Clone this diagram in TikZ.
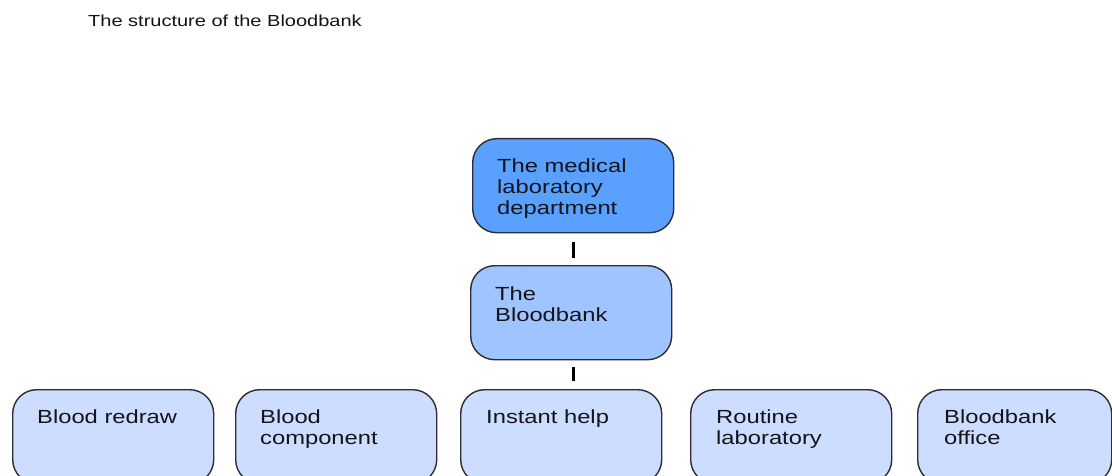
\documentclass[tikz,border=0pt]{standalone}
\usepackage{fontspec}
\setmainfont{Liberation Sans}[FakeStretch=1.25]
\usetikzlibrary{calc}
\definecolor{topblue}{RGB}{90,160,255}
\definecolor{midblue}{RGB}{160,196,255}
\definecolor{lowblue}{RGB}{204,221,255}
\definecolor{boxline}{RGB}{45,45,50}
\definecolor{textcol}{RGB}{20,20,25}
\begin{document}
\begin{tikzpicture}[x=1pt,y=-1pt,
  box/.style={draw=boxline, line width=1.4pt, rounded corners=24pt,
    minimum width=201pt, minimum height=94pt, inner sep=0pt, anchor=north west},
  lbl/.style={anchor=north west, inner sep=0pt, align=left,
    font=\fontsize{19}{21}\selectfont, text=textcol},
  stub/.style={line width=3.2pt, black}]
\useasboundingbox (0,0) rectangle (1112,476);
\clip (0,0) rectangle (1112,476);
\fill[white] (0,0) rectangle (1112,476);

\node[anchor=base west, inner sep=0pt, font=\fontsize{16}{19}\selectfont, text=textcol]
  (title) at (88,27) {The structure of the Bloodbank};

% boxes
\node[box, fill=topblue] (med) at (472,138) {};
\node[box, fill=midblue] (bb) at (470,265) {};
\node[box, fill=lowblue] (b1) at (12,389) {};
\node[box, fill=lowblue] (b2) at (235,389) {};
\node[box, fill=lowblue] (b3) at (460,389) {};
\node[box, fill=lowblue] (b4) at (690,389) {};
\node[box, fill=lowblue, minimum width=194pt] (b5) at (917,389) {};

% labels
\node[lbl] (tmed) at ($(med.north west)+(25,18)$) {\rule{0pt}{16pt}The medical\\laboratory\\department};
\node[lbl] (tbb) at ($(bb.north west)+(25,19)$) {\rule{0pt}{16pt}The\\Bloodbank};
\node[lbl] (t1) at ($(b1.north west)+(25,18)$) {\rule{0pt}{16pt}Blood redraw};
\node[lbl] (t2) at ($(b2.north west)+(25,18)$) {\rule{0pt}{16pt}Blood\\component};
\node[lbl] (t3) at ($(b3.north west)+(26,18)$) {\rule{0pt}{16pt}Instant help};
\node[lbl] (t4) at ($(b4.north west)+(26,18)$) {\rule{0pt}{16pt}Routine\\laboratory};
\node[lbl] (t5) at ($(b5.north west)+(27,18)$) {\rule{0pt}{16pt}Bloodbank\\office};

% connectors (short stubs)
\draw[stub, shorten <=9pt, shorten >=7pt] (med.south) -- (med.south |- bb.north);
\draw[stub, shorten <=7pt, shorten >=8pt] ($(bb.south)+(2,0)$) -- ($(bb.south |- b3.north)+(2,0)$);
\end{tikzpicture}
\end{document}
